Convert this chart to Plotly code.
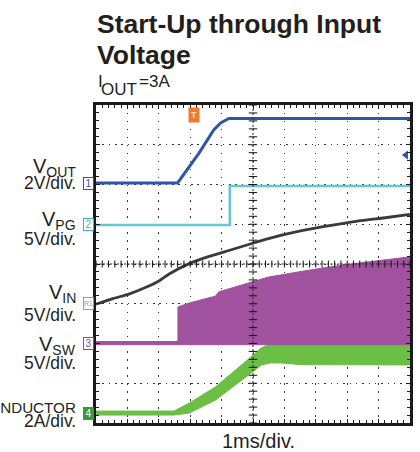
import numpy as np
import plotly.graph_objects as go

# ---------------- data (in scope divisions) ----------------
vout_t = [0, 2.60, 3.28, 3.75, 3.97, 4.10, 4.23, 10]
vout_v = [6.04, 6.04, 6.79, 7.37, 7.55, 7.61, 7.66, 7.66]

vpg_t = [0, 4.26, 4.26, 10]
vpg_v = [4.98, 4.98, 5.96, 5.96]

vin_t = [0, 0.54, 1.07, 1.61, 2.02, 2.33, 2.97, 3.60, 4.23, 4.86, 5.49, 6.44, 7.38, 8.33, 9.27, 10]
vin_v = [2.99, 3.13, 3.25, 3.42, 3.58, 3.75, 4.01, 4.19, 4.34, 4.49, 4.64, 4.82, 4.96, 5.08, 5.17, 5.25]

vsw_t = [0, 2.61, 2.61, 2.97, 3.60, 3.80, 3.91, 4.86, 5.49, 6.44, 7.38, 8.33, 9.27, 10]
vsw_hi = [2.05, 2.05, 2.92, 3.02, 3.15, 3.19, 3.30, 3.52, 3.67, 3.80, 3.92, 4.02, 4.12, 4.18]
vsw_lo = [1.97, 1.97, 1.96, 1.96, 1.96, 1.96, 1.96, 1.96, 1.96, 1.96, 1.97, 1.97, 1.97, 1.97]

il_t = [0, 2.48, 2.97, 3.81, 4.86, 5.27, 5.55, 5.90, 6.50, 10]
il_hi = [0.30, 0.30, 0.50, 0.91, 1.61, 1.89, 1.99, 2.02, 2.02, 2.02]
il_lo = [0.20, 0.20, 0.25, 0.58, 1.21, 1.46, 1.51, 1.51, 1.47, 1.46]

trig_t = 3.12
trig_level = 6.74

# ---------------- geometry ----------------
W, H = 420, 452
L, R, T, B = 96, 7, 105, 29
PW = W - L - R
PH = H - T - B


def px(x):
    return (x - L) / PW


def py(y):
    return (H - B - y) / PH


C_VOUT = "#2F56A6"
C_VPG = "#63C6D0"
C_VIN = "#3a3a3a"
C_VSW = "#A0529F"
C_IL = "#6CBE45"
FONT = "Liberation Sans, Arial, sans-serif"
TXT = "#231f20"

fig = go.Figure()

# inductor current band
fig.add_trace(go.Scatter(x=il_t, y=il_lo, mode="lines", line=dict(color=C_IL, width=1),
                         hoverinfo="skip", showlegend=False))
fig.add_trace(go.Scatter(x=il_t, y=il_hi, mode="lines", line=dict(color=C_IL, width=1),
                         fill="tonexty", fillcolor=C_IL, hoverinfo="skip", showlegend=False))
# switch node band
fig.add_trace(go.Scatter(x=vsw_t, y=vsw_lo, mode="lines", line=dict(color=C_VSW, width=1),
                         hoverinfo="skip", showlegend=False))
fig.add_trace(go.Scatter(x=vsw_t, y=vsw_hi, mode="lines", line=dict(color=C_VSW, width=1),
                         fill="tonexty", fillcolor=C_VSW, hoverinfo="skip", showlegend=False))
# VIN
fig.add_trace(go.Scatter(x=vin_t, y=vin_v, mode="lines",
                         line=dict(color=C_VIN, width=2.8, shape="spline", smoothing=0.6),
                         showlegend=False))
# VPG
fig.add_trace(go.Scatter(x=vpg_t, y=vpg_v, mode="lines", line=dict(color=C_VPG, width=2.5),
                         showlegend=False))
# VOUT
fig.add_trace(go.Scatter(x=vout_t, y=vout_v, mode="lines", line=dict(color=C_VOUT, width=3),
                         showlegend=False))

# graticule center crosshair
cx = np.arange(0, 10.001, 0.2)
cy = np.arange(0, 8.001, 0.2)
fig.add_trace(go.Scatter(x=cx, y=[4] * len(cx), mode="markers", hoverinfo="skip", showlegend=False,
                         marker=dict(symbol="line-ns", size=5, line=dict(color="#111", width=1))))
fig.add_trace(go.Scatter(x=[5] * len(cy), y=cy, mode="markers", hoverinfo="skip", showlegend=False,
                         marker=dict(symbol="line-ew", size=6, line=dict(color="#111", width=1))))
# trigger level arrow
fig.add_trace(go.Scatter(x=[9.87], y=[trig_level], mode="markers", hoverinfo="skip", showlegend=False,
                         cliponaxis=False,
                         marker=dict(symbol="triangle-left", size=8, color=C_VOUT)))

fig.add_shape(type="line", x0=5, x1=5, y0=0, y1=8, line=dict(color="#222", width=1, dash="2px,2px"))
fig.add_shape(type="line", x0=0, x1=10, y0=4, y1=4, line=dict(color="#222", width=1, dash="2px,1.5px"))

ann = []
# title
ann.append(dict(text="<b>Start-Up through Input</b>", x=px(95), y=py(24), xanchor="left", yanchor="middle",
                font=dict(size=26.5, color=TXT, family=FONT)))
ann.append(dict(text="<b>Voltage</b>", x=px(95), y=py(55), xanchor="left", yanchor="middle",
                font=dict(size=26.5, color=TXT, family=FONT)))
ann.append(dict(text="I", x=px(95.5), y=py(82), xanchor="left", yanchor="middle",
                font=dict(size=17, color=TXT, family=FONT)))
ann.append(dict(text="OUT", x=px(99.5), y=py(89), xanchor="left", yanchor="middle",
                font=dict(size=17, color=TXT, family=FONT)))
ann.append(dict(text="=3A", x=px(137), y=py(82), xanchor="left", yanchor="middle",
                font=dict(size=17, color=TXT, family=FONT)))

# channel labels
labels = [
    ("V<sub>OUT</sub>", 167, "2V/div.", 182.5),
    ("V<sub>PG</sub>", 220.5, "5V/div.", 239),
    ("V<sub>IN</sub>", 293.5, "5V/div.", 314.5),
    ("V<sub>SW</sub>", 345.5, "5V/div.", 363),
]
for name, ny, scale, sy in labels:
    ann.append(dict(text=name, x=px(78), y=py(ny), xanchor="right", yanchor="middle",
                    font=dict(size=20, color=TXT, family=FONT)))
    ann.append(dict(text=scale, x=px(78), y=py(sy), xanchor="right", yanchor="middle",
                    font=dict(size=17.5, color=TXT, family=FONT)))
ann.append(dict(text="INDUCTOR", x=px(78), y=py(407), xanchor="right", yanchor="middle",
                font=dict(size=15.2, color=TXT, family=FONT)))
ann.append(dict(text="2A/div.", x=px(78), y=py(420.5), xanchor="right", yanchor="middle",
                font=dict(size=17.5, color=TXT, family=FONT)))

# channel tags
tags = [("1", 183, C_VOUT, "white", C_VOUT),
        ("2", 224, "#3BB3B8", "white", "#3BB3B8"),
        ("R1", 303, "#9a9a9a", "white", "#9a9a9a"),
        ("3", 343, "#93479A", "white", "#93479A"),
        ("4", 413, "white", "#3A9A3A", "#3A9A3A")]
for t, ty, fc, bg, bc in tags:
    ann.append(dict(text=t, x=px(88.5), y=py(ty), xanchor="center", yanchor="middle",
                    font=dict(size=10 if len(t) == 1 else 7, color=fc, family=FONT),
                    bgcolor=bg, bordercolor=bc, borderwidth=1, borderpad=0, width=9, height=11))

# trigger position tag
ann.append(dict(text="<b>T</b>", x=trig_t, xref="x", y=py(115), yref="paper", xanchor="center", yanchor="middle",
                font=dict(size=9, color="#ffe0c8", family=FONT), bgcolor="#F07A2E", borderpad=1, width=8, height=12))

# time base
ann.append(dict(text="1ms/div.", x=px(260), y=py(441), xanchor="center", yanchor="middle",
                font=dict(size=20, color=TXT, family=FONT)))

for a in ann:
    a.setdefault("xref", "paper")
    a.setdefault("yref", "paper")
    a["showarrow"] = False
fig.update_layout(annotations=ann)

axis_common = dict(showline=True, linewidth=3, linecolor="#1a1a1a", mirror="ticks",
                   ticks="inside", ticklen=4, tickcolor="#1a1a1a", tickwidth=1,
                   showticklabels=False, zeroline=False, gridcolor="#333", gridwidth=1,
                   fixedrange=True)
fig.update_xaxes(range=[0, 10], dtick=1, griddash="1.5px,6.45px",
                 minor=dict(dtick=0.2, ticks="inside", ticklen=3, tickcolor="#1a1a1a", showgrid=False),
                 **axis_common)
fig.update_yaxes(range=[0, 8], dtick=1, griddash="1.5px,4.84px",
                 minor=dict(dtick=0.2, ticks="inside", ticklen=3, tickcolor="#1a1a1a", showgrid=False),
                 **axis_common)

fig.update_layout(width=W, height=H, margin=dict(l=L, r=R, t=T, b=B),
                  paper_bgcolor="white", plot_bgcolor="white", showlegend=False)

fig.write_html("out.html", config={"displayModeBar": False},
               post_script="document.body.style.margin='0px';document.body.style.overflow='hidden';")
